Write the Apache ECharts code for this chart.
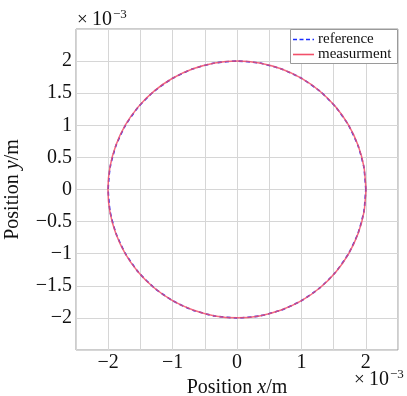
<!DOCTYPE html>
<html>
<head>
<meta charset="utf-8">
<script src="https://cdn.jsdelivr.net/npm/echarts@6/dist/echarts.min.js"></script>
<style>
  html, body { margin: 0; padding: 0; background: #fff; }
  #chart { width: 407px; height: 396px; }
</style>
</head>
<body>
<div id="chart"></div>
<script>
// Circular trajectory, coordinates in units of 1e-3 m (sampled every 10 degrees).
const refX = [2.000, 1.970, 1.879, 1.732, 1.532, 1.286, 1.000, 0.684, 0.347, 0.000,
  -0.347, -0.684, -1.000, -1.286, -1.532, -1.732, -1.879, -1.970, -2.000,
  -1.970, -1.879, -1.732, -1.532, -1.286, -1.000, -0.684, -0.347, 0.000,
  0.347, 0.684, 1.000, 1.286, 1.532, 1.732, 1.879, 1.970, 2.000];
const refY = [0.000, 0.347, 0.684, 1.000, 1.286, 1.532, 1.732, 1.879, 1.970, 2.000,
  1.970, 1.879, 1.732, 1.532, 1.286, 1.000, 0.684, 0.347, 0.000,
  -0.347, -0.684, -1.000, -1.286, -1.532, -1.732, -1.879, -1.970, -2.000,
  -1.970, -1.879, -1.732, -1.532, -1.286, -1.000, -0.684, -0.347, 0.000];
const measX = [2.003, 1.972, 1.881, 1.733, 1.531, 1.284, 0.998, 0.683, 0.348, 0.002,
  -0.345, -0.683, -1.001, -1.288, -1.534, -1.735, -1.882, -1.973, -2.004,
  -1.974, -1.883, -1.736, -1.535, -1.288, -1.001, -0.683, -0.345, 0.002,
  0.349, 0.686, 1.003, 1.289, 1.535, 1.735, 1.882, 1.973, 2.003];
const measY = [0.001, 0.348, 0.685, 1.002, 1.288, 1.534, 1.734, 1.881, 1.972, 2.001,
  1.971, 1.880, 1.733, 1.533, 1.287, 1.001, 0.685, 0.348, 0.001,
  -0.346, -0.683, -0.999, -1.285, -1.531, -1.731, -1.878, -1.969, -1.999,
  -1.969, -1.878, -1.731, -1.531, -1.285, -0.999, -0.683, -0.346, 0.001];

const seriesNames = ['reference', 'measurment'];
const axisMin = -2.5, axisMax = 2.5, gridStep = 0.5;

const refColor = '#1a2cff';
const measColor = '#f2506a';
const toPairs = (xs, ys) => xs.map((x, i) => [x, ys[i]]);
const serif = "'Liberation Serif', 'DejaVu Serif', serif";
const fmt = v => {
  const r = Math.round(v * 10) / 10;
  return r < 0 ? '\u2212' + (-r) : String(r);
};
const titleStyle = {
  fontFamily: serif, fontSize: 20, color: '#111',
  rich: { i: { fontFamily: serif, fontSize: 20, fontStyle: 'italic', color: '#111' } }
};

// Boxed legend in the upper-right corner of the plot
const legendGraphics = [
  { type: 'rect', z: 10, shape: { x: 290.5, y: 29.5, width: 107, height: 34 },
    style: { fill: '#fff', stroke: '#9a9a9a', lineWidth: 1 } },
  { type: 'line', z: 11, shape: { x1: 293, y1: 39.5, x2: 314, y2: 39.5 },
    style: { stroke: refColor, lineWidth: 1.6, lineDash: [4, 2.5] } },
  { type: 'line', z: 11, shape: { x1: 293, y1: 54.5, x2: 314, y2: 54.5 },
    style: { stroke: measColor, lineWidth: 1.6 } },
  { type: 'text', z: 11, x: 318, y: 39.5,
    style: { text: seriesNames[0], font: '15px ' + serif, fill: '#111', verticalAlign: 'middle' } },
  { type: 'text', z: 11, x: 318, y: 54.5,
    style: { text: seriesNames[1], font: '15px ' + serif, fill: '#111', verticalAlign: 'middle' } }
];

// Exponent markers (x10^-3) for both axes
function exponentMark(x, y) {
  return [
    { type: 'text', left: x, top: y, style: { text: '\u00d7', font: '19px ' + serif, fill: '#111' } },
    { type: 'text', left: x + 15, top: y - 1, style: { text: '10', font: '20px ' + serif, fill: '#111' } },
    { type: 'text', left: x + 36, top: y - 3, style: { text: '\u22123', font: '13px ' + serif, fill: '#111' } }
  ];
}
const exponentGraphics = exponentMark(77, 11).concat(exponentMark(354, 371));

const chart = echarts.init(document.getElementById('chart'), null, { renderer: 'canvas' });
chart.setOption({
  backgroundColor: '#ffffff',
  animation: false,
  grid: {
    left: 76, top: 29, width: 322, height: 321,
    containLabel: false, outerBoundsMode: 'none',
    show: true, borderColor: '#9a9a9a', borderWidth: 1, backgroundColor: 'transparent'
  },
  xAxis: {
    type: 'value', min: axisMin, max: axisMax, interval: gridStep,
    name: 'Position {i|x}/m', nameLocation: 'middle', nameGap: 25,
    nameTextStyle: titleStyle,
    axisLine: { show: false }, axisTick: { show: false },
    axisLabel: {
      fontFamily: serif, fontSize: 20, color: '#111', margin: 3,
      showMinLabel: false, showMaxLabel: false,
      formatter: v => (Math.abs(v - Math.round(v)) < 1e-9 ? fmt(v) : '')
    },
    splitLine: { show: true, lineStyle: { color: '#d6d6d6', width: 1 } }
  },
  yAxis: {
    type: 'value', min: axisMin, max: axisMax, interval: gridStep,
    name: 'Position {i|y}/m', nameLocation: 'middle', nameGap: 53, nameRotate: 90,
    nameTextStyle: titleStyle,
    axisLine: { show: false }, axisTick: { show: false },
    axisLabel: {
      fontFamily: serif, fontSize: 20, color: '#111', margin: 4,
      showMinLabel: false, showMaxLabel: false, formatter: fmt
    },
    splitLine: { show: true, lineStyle: { color: '#d6d6d6', width: 1 } }
  },
  graphic: exponentGraphics.concat(legendGraphics),
  series: [
    {
      name: seriesNames[0], type: 'line', data: toPairs(refX, refY),
      showSymbol: false, symbol: 'none', smooth: 0.2,
      lineStyle: { color: refColor, width: 1.6, type: [4, 3] }, z: 2
    },
    {
      name: seriesNames[1], type: 'line', data: toPairs(measX, measY),
      showSymbol: false, symbol: 'none', smooth: 0.2,
      lineStyle: { color: measColor, width: 1.5, opacity: 0.85 }, z: 3
    }
  ]
});
</script>
</body>
</html>
